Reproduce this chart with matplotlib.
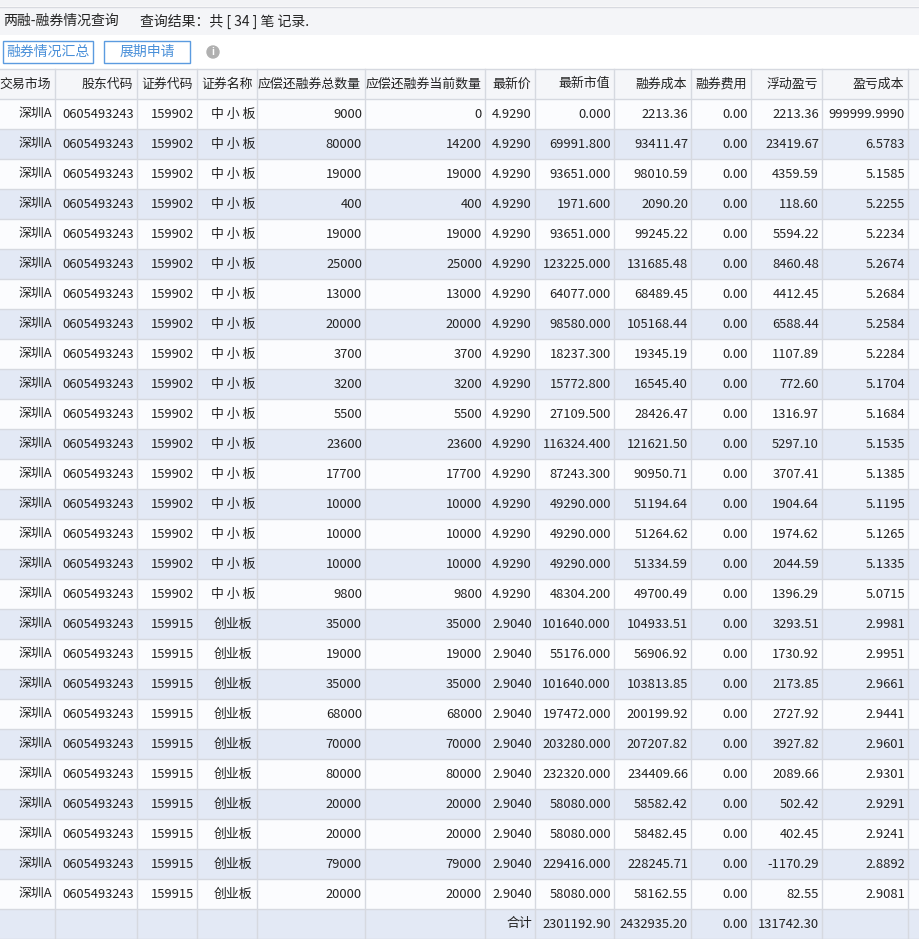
import matplotlib.pyplot as plt
from matplotlib.patches import Rectangle

plt.rcParams['font.family'] = ['Noto Sans CJK SC', 'DejaVu Sans']

headers = ['交易市场', '股东代码', '证券代码', '证券名称', '应偿还融券总数量', '应偿还融券当前数量',
           '最新价', '最新市值', '融券成本', '融券费用', '浮动盈亏', '盈亏成本', '']
col_edges = [0, 55, 137, 197, 257, 365, 485, 535, 614, 691, 751, 822, 908, 960]

total_qty = [9000, 80000, 19000, 400, 19000, 25000, 13000, 20000, 3700, 3200, 5500, 23600, 17700,
             10000, 10000, 10000, 9800, 35000, 19000, 35000, 68000, 70000, 80000, 20000, 20000, 79000, 20000]
cur_qty = [0, 14200, 19000, 400, 19000, 25000, 13000, 20000, 3700, 3200, 5500, 23600, 17700,
           10000, 10000, 10000, 9800, 35000, 19000, 35000, 68000, 70000, 80000, 20000, 20000, 79000, 20000]
market_val = ['0.000', '69991.800', '93651.000', '1971.600', '93651.000', '123225.000', '64077.000',
              '98580.000', '18237.300', '15772.800', '27109.500', '116324.400', '87243.300', '49290.000',
              '49290.000', '49290.000', '48304.200', '101640.000', '55176.000', '101640.000', '197472.000',
              '203280.000', '232320.000', '58080.000', '58080.000', '229416.000', '58080.000']
cost = ['2213.36', '93411.47', '98010.59', '2090.20', '99245.22', '131685.48', '68489.45', '105168.44',
        '19345.19', '16545.40', '28426.47', '121621.50', '90950.71', '51194.64', '51264.62', '51334.59',
        '49700.49', '104933.51', '56906.92', '103813.85', '200199.92', '207207.82', '234409.66',
        '58582.42', '58482.45', '228245.71', '58162.55']
float_pl = ['2213.36', '23419.67', '4359.59', '118.60', '5594.22', '8460.48', '4412.45', '6588.44',
            '1107.89', '772.60', '1316.97', '5297.10', '3707.41', '1904.64', '1974.62', '2044.59',
            '1396.29', '3293.51', '1730.92', '2173.85', '2727.92', '3927.82', '2089.66', '502.42',
            '402.45', '-1170.29', '82.55']
pl_cost = ['999999.9990', '6.5783', '5.1585', '5.2255', '5.2234', '5.2674', '5.2684', '5.2584', '5.2284',
           '5.1704', '5.1684', '5.1535', '5.1385', '5.1195', '5.1265', '5.1335', '5.0715', '2.9981',
           '2.9951', '2.9661', '2.9441', '2.9601', '2.9301', '2.9291', '2.9241', '2.8892', '2.9081']
totals = ['', '', '', '', '', '', '合计', '2301192.90', '2432935.20', '0.00', '131742.30', '', '']

n_small = 17
rows = []
for i in range(len(total_qty)):
    small = i < n_small
    rows.append(['深圳A', '0605493243', '159902' if small else '159915',
                 '中 小 板' if small else '创业板', str(total_qty[i]), str(cur_qty[i]),
                 '4.9290' if small else '2.9040', market_val[i], cost[i], '0.00',
                 float_pl[i], pl_cost[i], ''])

W, H = 919, 939
fig = plt.figure(figsize=(W / 100, H / 100), dpi=100)
ax = fig.add_axes([0, 0, 1, 1])
ax.set_xlim(0, W)
ax.set_ylim(H, 0)
ax.axis('off')

# top bar
ax.add_patch(Rectangle((0, 0), W, 6, color='#f2f3f6', lw=0))
ax.plot([0, W], [6.5, 6.5], color='#d8dae0', lw=1)
ax.add_patch(Rectangle((0, 7), W, 28, color='#f4f5f8', lw=0))
ax.text(3, 21, '两融-融券情况查询', fontsize=10, va='center', color='#222')
ax.text(140, 21, '查询结果：共 [ 34 ] 笔 记录.', fontsize=10, va='center', color='#222')

# buttons
for x0, w, label in [(3, 90, '融券情况汇总'), (104, 86, '展期申请')]:
    ax.add_patch(Rectangle((x0, 41), w, 22, fill=False, ec='#5b9be0', lw=1))
    ax.text(x0 + w / 2, 52, label, fontsize=10, ha='center', va='center', color='#4a90d9')
ax.add_patch(plt.Circle((213, 52), 6, color='#b0b0b0'))
ax.text(213, 52, 'i', fontsize=7, ha='center', va='center', color='white', fontweight='bold')

top = 69
rh = 30
n = len(rows)
line_c = '#d6d9e0'
fs = 9.3

# header
ax.add_patch(Rectangle((0, top), W, rh, color='#f5f6f9', lw=0))
for j, h in enumerate(headers):
    ax.text(col_edges[j + 1] - 4, top + rh / 2, h, fontsize=fs, ha='right', va='center', color='#222')

for i, r in enumerate(rows + [totals]):
    y = top + rh * (i + 1)
    bg = '#e3e9f5' if i % 2 == 1 else '#fbfcfe'
    ax.add_patch(Rectangle((0, y), W, rh, color=bg, lw=0))
    for j, v in enumerate(r):
        if j == 3:
            ax.text((col_edges[j] + col_edges[j + 1]) / 2 + 6, y + rh / 2, v, fontsize=fs,
                    ha='center', va='center', color='#222')
        else:
            ax.text(col_edges[j + 1] - 3, y + rh / 2, v, fontsize=fs, ha='right', va='center', color='#222')

bottom = top + rh * (n + 2)
for x in col_edges[1:-1]:
    ax.plot([x, x], [top, bottom], color=line_c, lw=1)
for i in range(n + 3):
    ax.plot([0, W], [top + rh * i, top + rh * i], color=line_c, lw=1)

fig.savefig('out.png', dpi=100)
